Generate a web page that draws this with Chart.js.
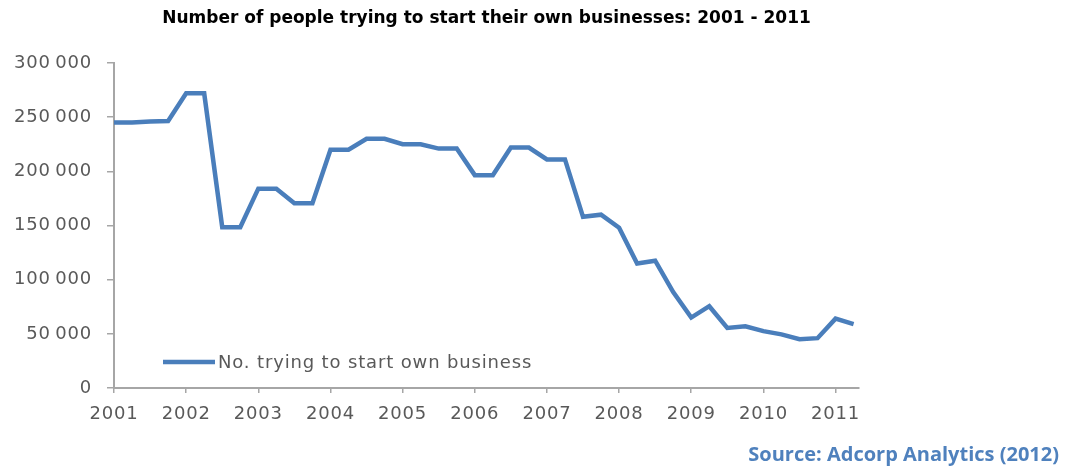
<!DOCTYPE html>
<html>
<head>
<meta charset="utf-8">
<script src="https://cdn.jsdelivr.net/npm/chart.js@4.4.0/dist/chart.umd.min.js"></script>
<style>
  html, body { margin: 0; padding: 0; background: #fff; }
  #wrap { width: 1065px; height: 466px; }
</style>
</head>
<body>
<div id="wrap"><canvas id="startups" width="1065" height="466"></canvas></div>
<script>
// year labels on the x axis, one per four quarters
const years = ['2001','2002','2003','2004','2005','2006','2007','2008','2009','2010','2011'];
// quarterly counts, 2001 Q1 .. 2011 Q2
const starters = [
  245000, 245000, 246000, 246500,
  272000, 272000, 148500, 148500,
  184000, 184000, 170500, 170500,
  220000, 220000, 230000, 230000,
  225000, 225000, 221000, 221000,
  196500, 196500, 222000, 222000,
  211000, 211000, 158000, 160000,
  148000, 115000, 117500, 88500,
  65000, 75500, 55500, 57000,
  52500, 49500, 45000, 46000,
  64000, 59000
];
const yTicks = [0, 50000, 100000, 150000, 200000, 250000, 300000];

const chartTitle = 'Number of people trying to start their own businesses: 2001 - 2011';
const seriesName = 'No. trying to start own business';
const sourceNote = 'Source: Adcorp Analytics (2012)';

const axisGrey = '#a6a6a6';
const labelGrey = '#595959';
const blue = '#4a7ebb';

// thousands grouped with a thin space
const fmt = v => String(v).replace(/\B(?=(\d{3})+(?!\d))/g, '\u2009');

// slightly wider lettering for the axis labels
const spacing = {
  id: 'spacing',
  beforeDraw(chart) { chart.ctx.letterSpacing = '0.8px'; }
};

// title, in-plot legend and source line
const extras = {
  id: 'extras',
  afterDraw(chart) {
    const { ctx, chartArea: a } = chart;
    ctx.save();
    ctx.letterSpacing = '0px';
    ctx.textBaseline = 'middle';
    ctx.fillStyle = '#000';
    ctx.font = 'bold 17px "DejaVu Sans"';
    ctx.textAlign = 'center';
    ctx.fillText(chartTitle, (a.left + a.right) / 2, 19);

    const ds = chart.data.datasets[0];
    const ly = a.bottom - 26;
    ctx.strokeStyle = ds.borderColor;
    ctx.lineWidth = ds.borderWidth;
    ctx.beginPath();
    ctx.moveTo(a.left + 49, ly);
    ctx.lineTo(a.left + 101, ly);
    ctx.stroke();
    ctx.fillStyle = labelGrey;
    ctx.font = '18px "DejaVu Sans"';
    ctx.letterSpacing = '0.85px';
    ctx.textAlign = 'left';
    ctx.fillText(ds.label, a.left + 104, ly + 1);

    ctx.letterSpacing = '0px';
    ctx.fillStyle = '#4f81bd';
    ctx.font = 'bold 20px "Open Sans"';
    ctx.textAlign = 'right';
    ctx.fillText(sourceNote, 1059, 455);
    ctx.restore();
  }
};

new Chart(document.getElementById('startups'), {
  type: 'line',
  data: {
    datasets: [{
      label: seriesName,
      data: starters.map((v, i) => ({ x: i, y: v })),
      borderColor: blue,
      borderWidth: 4.5,
      pointRadius: 0,
      tension: 0,
      fill: false
    }]
  },
  options: {
    responsive: false,
    animation: false,
    devicePixelRatio: 1,
    layout: { padding: { top: 63, right: 206, left: 0, bottom: 0 } },
    plugins: { legend: { display: false }, title: { display: false }, tooltip: { enabled: false } },
    scales: {
      x: {
        type: 'linear',
        min: 0,
        max: 41.3,
        afterBuildTicks: s => { s.ticks = years.map((_, k) => ({ value: k * 4 })); },
        afterFit: s => { s.height = 78; },
        grid: { drawOnChartArea: false, tickLength: 5, color: axisGrey, lineWidth: 1.5 },
        border: { color: axisGrey, width: 2 },
        ticks: {
          callback: v => years[v / 4],
          color: labelGrey,
          font: { family: 'DejaVu Sans', size: 18 },
          padding: 11,
          maxRotation: 0
        }
      },
      y: {
        min: 0,
        max: 300000,
        afterBuildTicks: s => { s.ticks = yTicks.map(v => ({ value: v })); },
        afterFit: s => { s.width = 114; },
        grid: { drawOnChartArea: false, tickLength: 7, color: axisGrey, lineWidth: 1.5 },
        border: { color: axisGrey, width: 2 },
        ticks: {
          callback: v => fmt(v),
          color: labelGrey,
          font: { family: 'DejaVu Sans', size: 18 },
          padding: 15
        }
      }
    }
  },
  plugins: [spacing, extras]
});
</script>
</body>
</html>
